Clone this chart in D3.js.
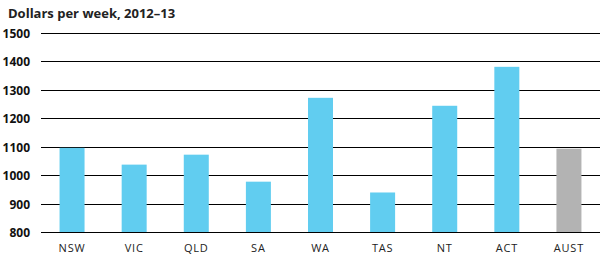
<!DOCTYPE html>
<html>
<head>
<meta charset="utf-8">
<script src="https://cdn.jsdelivr.net/npm/d3@7"></script>
<style>
  body { margin: 0; background: #fff; }
  svg { display: block; font-family: 'Open Sans', 'Liberation Sans', sans-serif; }
</style>
</head>
<body>
<script>
// Dollars per week by state, 2012-13
const categories = ['NSW', 'VIC', 'QLD', 'SA', 'WA', 'TAS', 'NT', 'ACT', 'AUST']
const values = [1096, 1037, 1072, 977, 1272, 939, 1244, 1381, 1093]
const yTicks = [800, 900, 1000, 1100, 1200, 1300, 1400, 1500]

const width = 605
const height = 266
const margin = { top: 33, right: 5, bottom: 34, left: 41 }

const svg = d3.select('body').append('svg')
  .attr('width', width)
  .attr('height', height)

const x = d3.scaleBand()
  .domain(categories)
  .range([margin.left, width - margin.right])
  .padding(0)

const y = d3.scaleLinear()
  .domain([800, 1500])
  .range([height - margin.bottom, margin.top])

// Title
svg.append('text')
  .attr('x', 8)
  .attr('y', 18)
  .style('font-size', '13px')
  .style('font-weight', '700')
  .style('fill', '#222')
  .text('Dollars per week, 2012–13')

// Gridlines
svg.append('g')
  .selectAll('line')
  .data(yTicks)
  .enter()
  .append('line')
  .attr('x1', margin.left)
  .attr('x2', width - margin.right)
  .attr('y1', d => Math.round(y(d)) + 0.5)
  .attr('y2', d => Math.round(y(d)) + 0.5)
  .attr('stroke', '#000')
  .attr('stroke-width', 1.2)

// Y tick labels
svg.append('g')
  .selectAll('text')
  .data(yTicks)
  .enter()
  .append('text')
  .attr('x', 30)
  .attr('y', d => Math.round(y(d)) + 4.5)
  .attr('text-anchor', 'end')
  .style('font-size', '12px')
  .style('font-weight', '700')
  .style('fill', '#111')
  .text(d => d)

// Bars
const barWidth = 25
svg.append('g')
  .selectAll('rect')
  .data(categories)
  .enter()
  .append('rect')
  .attr('x', (d) => x(d) + x.bandwidth() / 2 - barWidth / 2)
  .attr('y', (d, i) => y(values[i]))
  .attr('width', barWidth)
  .attr('height', (d, i) => y(800) - y(values[i]))
  .attr('fill', d => d === 'AUST' ? '#b3b3b3' : '#61cdf0')

// Category labels
svg.append('g')
  .selectAll('text')
  .data(categories)
  .enter()
  .append('text')
  .attr('x', d => x(d) + x.bandwidth() / 2)
  .attr('y', 252)
  .attr('text-anchor', 'middle')
  .style('font-size', '11px')
  .style('letter-spacing', '0.8px')
  .style('fill', '#222')
  .text(d => d)
</script>
</body>
</html>
